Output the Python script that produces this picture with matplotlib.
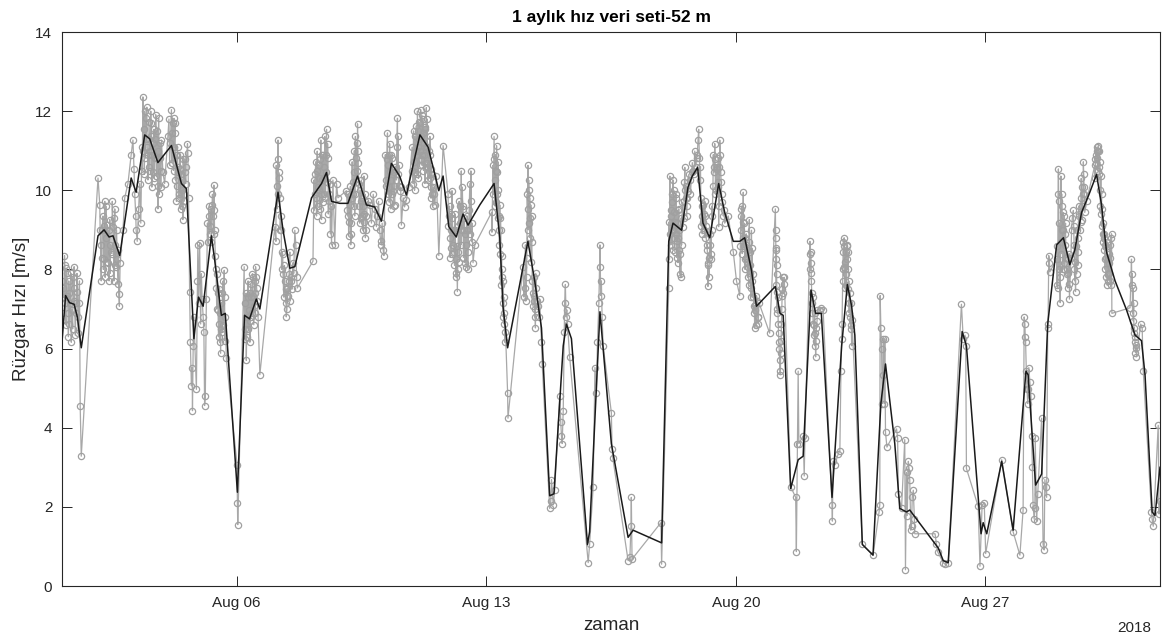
import numpy as np
import pandas as pd
import matplotlib
matplotlib.use('Agg')
import matplotlib.pyplot as plt
import matplotlib.dates as mdates

# Time stamps are given as fractional day-of-month (August 2018), speeds in m/s.

# raw measurements (gray, open circles)
t_raw = [
    1.10, 1.13, 1.17, 1.19, 1.22, 1.25, 1.27, 1.29, 1.31, 1.33, 1.36, 1.38, 1.41, 1.44, 1.45,
    1.47, 1.50, 1.53, 1.55, 1.57, 1.59, 1.61, 1.64, 2.11,
    2.16, 2.18, 2.20, 2.22, 2.25, 2.28, 2.30, 2.31, 2.34, 2.37, 2.39, 2.42, 2.44, 2.46, 2.48,
    2.51, 2.53, 2.56, 2.58, 2.60, 2.62, 2.65, 2.67, 2.69, 2.71, 2.73,
    2.81, 2.86, 2.95, 3.04, 3.09, 3.12, 3.14, 3.17, 3.18, 3.21, 3.25, 3.28, 3.31,
    3.34, 3.37, 3.40, 3.42, 3.44, 3.46, 3.49, 3.51, 3.54, 3.56, 3.59, 3.60, 3.62, 3.65, 3.68,
    3.70, 3.73, 3.75, 3.77, 3.79, 3.81, 3.84, 3.87, 3.89, 3.93, 3.98, 4.07, 4.12, 4.17, 4.19,
    4.21, 4.24, 4.26, 4.28, 4.31, 4.33, 4.35, 4.37, 4.40, 4.43, 4.45, 4.47, 4.49, 4.52, 4.54,
    4.57, 4.62, 4.63, 4.65, 4.68, 4.70, 4.73, 4.75, 4.76, 4.78, 4.80,
    4.87, 4.90, 4.91, 4.93, 4.96, 4.99, 5.01, 5.03, 5.06, 5.08, 5.10, 5.12, 5.15,
    5.18, 5.21, 5.24, 5.27, 5.31, 5.34, 5.36, 5.38, 5.40, 5.43, 5.46, 5.48, 5.50, 5.52, 5.55,
    5.57, 5.59, 5.62, 5.65, 5.66, 5.68, 5.71, 6.01, 6.02, 6.03,
    6.21, 6.23, 6.24, 6.27, 6.30, 6.32, 6.34, 6.37, 6.39, 6.41, 6.44, 6.46, 6.49, 6.51, 6.53,
    6.56, 6.60, 6.65,
    7.07, 7.10, 7.11, 7.14, 7.16, 7.18, 7.21, 7.24, 7.25, 7.27, 7.30, 7.35, 7.37, 7.39, 7.42,
    7.44, 7.47, 7.49, 7.52, 7.53, 7.58, 7.63, 7.66, 7.68, 7.70, 8.14,
    8.17, 8.19, 8.22, 8.24, 8.26, 8.28, 8.31, 8.33, 8.36, 8.38, 8.40, 8.42, 8.45, 8.47, 8.50,
    8.52, 8.55, 8.56, 8.58, 8.61, 8.63, 8.66, 8.70, 8.75, 8.80, 8.84,
    9.08, 9.11, 9.14, 9.17, 9.20, 9.22, 9.24, 9.26, 9.29, 9.31, 9.33, 9.36, 9.39, 9.40, 9.42,
    9.45, 9.48, 9.50, 9.52, 9.54, 9.57, 9.59, 9.61, 9.64, 9.67, 9.73, 9.78, 9.83, 9.87, 9.92,
    9.95, 9.98, 10.01, 10.04, 10.06, 10.08, 10.11, 10.13,
    10.17, 10.20, 10.23, 10.25, 10.27, 10.29, 10.32, 10.34, 10.36, 10.39, 10.41, 10.43, 10.48,
    10.51, 10.53, 10.55, 10.57, 10.60, 10.62, 10.67, 10.71, 10.76, 10.83,
    10.92, 10.95, 10.98, 11.00, 11.01, 11.04, 11.07, 11.09, 11.11, 11.13, 11.16, 11.18, 11.20,
    11.23, 11.26, 11.28, 11.29, 11.32, 11.35, 11.37, 11.40, 11.42, 11.44, 11.46, 11.49, 11.52,
    11.56, 11.60, 11.67, 11.79,
    11.93, 11.96, 11.98, 12.00, 12.02, 12.04, 12.07, 12.10, 12.12, 12.14, 12.16, 12.19, 12.21,
    12.24, 12.26, 12.29, 12.30, 12.33, 12.35, 12.38, 12.40, 12.43, 12.44, 12.47, 12.49, 12.54,
    12.57, 12.58, 12.60, 12.63, 12.68,
    13.15, 13.16, 13.19, 13.22, 13.24, 13.26, 13.29, 13.30, 13.31, 13.33, 13.35, 13.37, 13.38,
    13.41, 13.43, 13.44, 13.46, 13.47, 13.48, 13.50, 13.52, 13.54, 13.60, 13.61,
    14.03, 14.06, 14.08, 14.10, 14.13, 14.16, 14.17, 14.19, 14.21, 14.22, 14.25, 14.27, 14.29,
    14.31, 14.34, 14.36, 14.38, 14.41, 14.46, 14.50, 14.55, 14.57,
    14.78, 14.81, 14.83, 14.88, 14.92, 15.06, 15.09, 15.11, 15.13, 15.16, 15.19, 15.20, 15.22,
    15.24, 15.26, 15.28, 15.34, 15.86, 15.90, 16.00, 16.05, 16.09, 16.12, 16.16, 16.19, 16.20,
    16.21, 16.23, 16.25, 16.28, 16.51, 16.53, 16.55,
    16.98, 17.03, 17.06, 17.07, 17.09, 17.90, 17.92,
    18.12, 18.14, 18.15, 18.17, 18.18, 18.20, 18.21, 18.24, 18.27, 18.29, 18.31, 18.34, 18.36,
    18.38, 18.40, 18.43, 18.46, 18.48, 18.52, 18.55, 18.57, 18.59, 18.62, 18.64, 18.66, 18.71,
    18.76, 18.80, 18.85, 18.90, 18.94, 18.96, 18.98, 19.00, 19.02, 19.04, 19.06, 19.08, 19.11,
    19.13, 19.15, 19.18, 19.21, 19.22, 19.25, 19.27, 19.30, 19.32, 19.34, 19.37, 19.38, 19.41,
    19.43, 19.46, 19.49, 19.51, 19.52, 19.55, 19.58, 19.60, 19.65, 19.69, 19.79, 19.93, 20.02,
    20.11, 20.14, 20.16, 20.19, 20.21, 20.23, 20.25, 20.27, 20.30, 20.33, 20.35, 20.38, 20.39,
    20.42, 20.44, 20.46, 20.49, 20.52, 20.53, 20.55, 20.58, 20.61, 20.63, 20.65,
    20.95, 21.11, 21.12, 21.13, 21.14, 21.15, 21.16, 21.17, 21.19, 21.21, 21.23, 21.24, 21.25,
    21.26, 21.28, 21.30, 21.32, 21.34, 21.36, 21.54, 21.68, 21.70, 21.73, 21.75, 21.77, 21.89,
    21.92, 21.94,
    22.08, 22.10, 22.11, 22.12, 22.14, 22.17, 22.20, 22.22, 22.24, 22.26, 22.29, 22.36, 22.40,
    22.45, 22.70, 22.71, 22.73, 22.78, 22.87, 22.92, 22.95, 22.97, 22.98, 23.00, 23.01, 23.03,
    23.04, 23.06, 23.08, 23.10, 23.12, 23.13, 23.15, 23.17, 23.19, 23.21, 23.23, 23.25, 23.26,
    23.55, 23.85, 24.02, 24.04, 24.05, 24.07, 24.09, 24.11, 24.13, 24.14, 24.16, 24.18, 24.20,
    24.24, 24.51, 24.54, 24.56,
    24.65, 24.74, 24.76, 24.79, 24.81, 24.84, 24.86, 24.88, 24.91, 24.93, 24.95, 24.98, 25.01,
    25.02, 25.59, 25.63, 25.66, 25.82, 25.87, 25.96,
    26.33, 26.38, 26.43, 26.45, 26.47, 26.80, 26.85, 26.91, 26.97, 27.01, 27.46, 27.78, 27.97,
    28.06, 28.09, 28.11, 28.12, 28.13, 28.15, 28.17, 28.19, 28.20, 28.22, 28.25, 28.28, 28.30,
    28.32, 28.34, 28.37, 28.39,
    28.40, 28.44, 28.47, 28.58, 28.62, 28.65, 28.67, 28.69, 28.72, 28.75, 28.76, 28.78, 28.80,
    28.81, 29.00, 29.03, 29.05, 29.06, 29.08, 29.09, 29.10, 29.12, 29.14, 29.16, 29.18, 29.20,
    29.21, 29.23, 29.25, 29.28, 29.31, 29.33, 29.34, 29.36, 29.42, 29.47, 29.49, 29.51, 29.53,
    29.56, 29.59, 29.61, 29.63, 29.65, 29.68, 29.70, 29.72, 29.75, 29.77, 29.79, 29.84,
    30.07, 30.10, 30.12, 30.14, 30.17, 30.19, 30.21, 30.24, 30.26, 30.28, 30.31, 30.33, 30.35,
    30.37, 30.40, 30.43, 30.45, 30.47, 30.50, 30.52, 30.54, 30.55,
    31.06, 31.10, 31.12, 31.14, 31.16, 31.18, 31.20, 31.22, 31.24, 31.36, 31.40, 31.43,
    31.66, 31.68, 31.71, 31.85, 31.87, 31.90,
]
v_raw = [
    7.71, 7.53, 8.35, 7.16, 8.03, 7.34, 6.89, 7.71, 6.62, 7.16, 6.16, 6.98, 7.80, 8.07, 7.53,
    6.34, 7.16, 7.44, 6.80, 7.16, 7.71, 4.56, 3.28, 10.31,
    9.63, 8.62, 7.71, 8.99, 9.35, 8.26, 9.72, 7.80, 8.80, 9.12, 8.17, 7.71, 9.26, 8.62, 8.44,
    9.72, 9.08, 7.71, 9.53, 8.62, 8.07, 8.26, 7.62, 7.39, 7.07, 8.17,
    8.99, 9.81, 10.17, 10.90, 11.27, 10.54, 9.90, 9.35, 8.99, 8.71, 9.53, 10.17, 9.17,
    11.09, 12.36, 11.54, 12.00, 10.81, 11.82, 11.09, 10.26, 11.72, 10.99, 12.00, 11.36, 10.08,
    10.45, 11.54,
    10.81, 11.91, 10.36, 10.81, 9.53, 11.82, 10.81, 10.08, 11.27, 10.45, 10.17, 11.36, 10.63,
    12.04, 11.45,
    11.09, 11.82, 11.45, 10.26, 9.72, 10.90, 10.45, 9.90, 10.54, 9.53, 10.08, 10.26, 9.26, 9.72,
    10.45,
    10.17, 11.18, 10.95, 9.81, 7.44, 6.16, 5.06, 5.52, 4.43, 6.07, 6.80,
    4.97, 7.71, 8.62, 7.16, 8.67, 6.62, 7.89, 7.25, 6.80, 6.43, 4.56, 4.79, 7.25,
    9.17, 9.35, 8.90, 9.53, 9.63, 9.35, 10.13, 8.99, 8.35, 7.53, 7.89, 6.98, 6.62, 6.16, 5.88,
    7.16, 6.43, 7.71, 7.98, 7.30, 6.80, 5.75, 3.06, 2.10, 1.55,
    8.07, 7.16, 6.25, 5.70, 6.80, 7.71, 6.98, 6.16, 7.62, 6.80, 7.89, 7.34, 7.07, 7.71, 8.07,
    7.53, 6.80, 5.34,
    9.08, 8.71, 10.63, 9.53, 11.27, 10.45, 9.81, 9.35, 8.99, 8.44, 7.89, 7.71, 7.16, 6.80, 7.53,
    7.34, 7.89, 8.44, 7.80, 7.71, 8.17, 8.99, 8.62, 7.80, 7.53, 8.21,
    10.26, 9.90, 10.72, 9.35, 10.99, 10.08, 10.63, 9.53, 11.27, 9.26, 10.26, 10.90, 9.90, 11.36,
    10.45,
    11.54, 11.18, 10.81, 9.72, 10.17, 8.90, 8.62, 10.26, 8.62, 10.17, 9.81,
    9.99, 9.35, 8.85, 9.63, 8.62, 9.17, 10.72, 9.90, 10.45, 9.35, 11.36, 10.81, 11.68, 10.99,
    10.17,
    9.17, 9.72, 10.26, 9.35, 8.99, 10.36, 9.72, 8.80, 9.35, 9.72, 9.63, 9.17, 9.90, 9.53, 9.08,
    9.35, 9.72, 8.99, 8.71, 8.62, 9.17, 8.49, 8.35,
    10.90, 10.26, 11.45, 10.63, 10.08, 11.18, 9.53, 10.26, 10.81, 9.99, 10.45, 9.63, 10.26,
    11.82, 11.36, 10.63, 9.99, 10.08, 9.12, 9.81, 9.58, 9.76, 10.08,
    11.09, 10.17, 10.72, 11.36, 10.45, 11.63, 12.00, 11.09, 11.72, 10.63, 12.04, 11.36, 10.63,
    11.45, 10.90, 10.17, 11.54, 12.09, 11.09, 10.26, 10.63, 11.36, 10.08, 10.54, 9.90, 10.08,
    9.63, 10.36, 8.35, 11.13,
    9.90, 9.35, 8.80, 8.53, 8.99, 9.99, 8.62, 8.44, 8.99, 8.26, 7.80, 7.44, 8.44,
    9.72, 9.17, 8.62, 10.49, 10.08, 9.53, 8.99, 8.17, 8.62, 8.07, 9.35, 8.44, 10.17,
    10.49, 9.72, 9.17, 8.17, 8.62,
    9.44, 8.94, 10.63, 11.36, 10.26, 10.90, 11.13, 10.45, 9.90, 10.72, 9.35, 8.62, 9.63,
    8.99, 8.35, 7.80, 7.16, 7.71, 6.80, 6.62, 6.16, 6.43, 4.88, 4.24,
    8.07, 7.30, 7.53, 8.62, 7.80, 9.53, 10.63, 10.26, 9.17, 9.81, 9.63, 9.35, 7.71,
    7.07, 7.34, 6.80, 6.52, 7.53, 7.07, 7.25, 6.16, 5.61,
    1.96, 2.14, 2.69, 2.05, 2.42, 4.79, 4.15, 3.79, 3.60, 4.43, 6.43, 7.16, 7.62,
    6.80, 6.98, 6.62, 5.79, 0.59, 1.05, 2.51, 5.52, 4.88, 6.16, 7.16, 8.62, 8.07,
    7.34, 7.71, 6.80, 6.07, 4.38, 3.47, 3.24,
    0.64, 0.73, 1.51, 2.24, 0.68, 1.60, 0.55,
    7.53, 8.26, 10.36, 9.35, 8.62, 9.90, 8.99, 10.26, 9.44, 8.44, 9.81, 8.71, 9.17,
    8.17, 9.53, 7.89, 7.80, 8.62, 9.08, 9.72, 10.58, 9.81, 9.35, 9.81, 9.99, 10.26,
    10.45, 10.49, 10.99, 10.81, 11.27, 11.54, 10.81, 10.26, 9.81, 9.35, 8.90, 9.63, 8.99,
    9.72, 9.35, 8.62, 8.17, 7.57, 7.80, 8.62, 8.26, 8.99, 9.35, 10.90, 10.45, 11.18,
    9.90, 10.54, 10.08, 10.81, 9.08, 11.27, 10.45, 9.90, 9.35, 9.17, 9.35, 8.44, 7.71,
    7.34, 9.35, 9.53, 8.80, 9.95, 9.17, 8.26, 8.80, 8.62, 7.80, 8.07, 9.26, 8.44,
    7.53, 8.99, 8.53, 7.89, 7.07, 6.52, 6.98, 7.34, 6.80, 6.62, 7.16,
    6.39, 9.53, 8.80, 8.26, 8.53, 7.89, 7.44, 6.89, 6.62, 6.16, 5.70, 5.43, 5.34,
    5.88, 6.62, 7.34, 7.80, 7.62, 7.80, 2.51, 2.24, 0.87, 3.60, 5.43, 3.60, 3.79,
    2.78, 3.74,
    8.71, 8.44, 8.17, 7.71, 7.16, 6.62, 6.34, 6.07, 5.79, 6.52, 6.98, 6.98, 7.03,
    6.98, 2.05, 1.64, 3.15, 3.06, 3.33, 3.42, 5.43, 6.25, 6.62, 7.71, 8.44, 8.07,
    8.80, 7.53, 8.44, 7.89, 8.26, 8.62, 8.44, 7.71, 7.16, 6.80, 7.16, 6.07, 6.71,
    1.05, 0.78, 1.87, 2.05, 7.34, 6.52, 5.98, 4.61, 5.34, 6.25, 4.61, 6.25, 3.88,
    3.51, 3.97, 3.74, 2.33,
    1.96, 3.70, 0.41, 2.87, 1.78, 3.15, 2.97, 2.69, 1.41, 1.51, 2.24, 2.42, 1.69,
    1.32, 1.32, 1.05, 0.87, 0.59, 0.55, 0.59,
    7.12, 6.25, 6.34, 6.07, 2.97, 2.01, 0.50, 2.05, 2.10, 0.82, 3.19, 1.37, 0.78,
    1.92, 6.80, 6.62, 6.30, 6.16, 5.43, 4.97, 4.61, 4.97, 5.52, 5.16, 4.79, 3.79,
    3.01, 2.05, 1.69, 1.96,
    3.74, 1.64, 2.33, 4.24, 1.05, 0.91, 2.69, 2.51, 2.24, 6.52, 6.62, 8.35, 8.17,
    7.94, 8.26, 7.53, 10.54, 9.72, 9.17, 7.80, 7.16, 10.36, 9.90, 8.99, 9.44, 8.17,
    9.35, 8.62, 9.17, 7.89, 7.53, 8.26, 7.62, 7.25, 8.99, 9.49, 8.62, 7.71, 7.44,
    7.89, 8.44, 8.80, 9.35, 8.99, 9.81, 10.08, 9.26, 10.72, 10.08, 9.44, 9.72,
    10.63, 10.90, 11.09, 10.81, 11.13, 10.99, 10.72, 10.36, 9.90, 9.53, 9.17, 8.80, 8.62,
    8.26, 8.44, 7.71, 7.89, 8.17, 8.62, 8.80, 8.90, 6.89,
    7.03, 8.26, 7.89, 7.53, 7.16, 6.52, 6.16, 6.02, 5.79, 6.62, 6.52, 5.43,
    1.87, 1.69, 1.51, 4.06, 1.82, 2.14,
]

# further raw readings inside the windy stretches (same sensor, in between the above)
t_raw_more = [
    1.11, 1.15, 1.18, 1.21, 1.24, 1.28, 1.30, 1.35, 1.40, 1.43, 1.49, 1.52, 1.56,
    2.17, 2.21, 2.26, 2.29, 2.33, 2.36, 2.41, 2.45, 2.50, 2.55, 2.59, 2.63, 2.68,
    3.35, 3.38, 3.41, 3.45, 3.48, 3.50, 3.53, 3.55, 3.57, 3.61, 3.63, 3.66, 3.69, 3.72, 3.76,
    3.78, 3.80, 3.83, 3.85, 3.88, 4.10, 4.14, 4.18, 4.20, 4.23, 4.25, 4.27, 4.29, 4.32, 4.34,
    4.36, 4.39, 4.41, 4.44, 4.46, 4.48, 4.50, 4.53, 4.55, 4.58,
    5.19, 5.22, 5.25, 5.29, 5.32, 5.35, 5.37, 5.42, 5.44, 5.47, 5.49, 5.51, 5.53, 5.56, 5.60,
    5.63, 5.67,
    6.22, 6.26, 6.28, 6.31, 6.33, 6.36, 6.38, 6.40, 6.43, 6.45, 6.48, 6.50, 6.52, 6.55, 6.58,
    7.12, 7.15, 7.17, 7.20, 7.22, 7.26, 7.29, 7.32, 7.34, 7.38, 7.41, 7.46, 7.50, 7.55, 7.60,
    8.18, 8.20, 8.23, 8.25, 8.27, 8.30, 8.32, 8.35, 8.37, 8.39, 8.41, 8.44, 8.46, 8.49, 8.51,
    8.54, 8.57, 8.60, 8.64,
    9.10, 9.13, 9.16, 9.19, 9.21, 9.23, 9.25, 9.28, 9.30, 9.32, 9.35, 9.37, 9.38, 9.41, 9.44,
    9.47, 9.49, 9.51, 9.53, 9.56, 9.58, 9.60, 9.63,
    10.18, 10.21, 10.24, 10.26, 10.28, 10.30, 10.33, 10.35, 10.37, 10.40, 10.42, 10.45, 10.49,
    10.52, 10.54,
    10.93, 10.96, 10.99, 11.02, 11.05, 11.06, 11.08, 11.10, 11.12, 11.14, 11.15, 11.17, 11.19,
    11.21, 11.22, 11.24, 11.25, 11.27, 11.30, 11.31, 11.33, 11.34, 11.36, 11.39, 11.41, 11.43,
    11.45, 11.48, 11.50, 11.53,
    11.94, 11.97, 11.99, 12.01, 12.03, 12.05, 12.08, 12.11, 12.13, 12.15, 12.17, 12.20, 12.22,
    12.25, 12.27, 12.31, 12.34, 12.36, 12.39, 12.41, 12.45, 12.48, 12.52, 12.55, 12.59,
    13.20, 13.23, 13.25, 13.27, 13.28, 13.32, 13.34, 13.36, 13.39, 13.40, 13.42, 13.45, 13.49,
    13.51,
    14.11, 14.14, 14.15, 14.18, 14.20, 14.23, 14.24, 14.26, 14.28, 14.30, 14.33, 14.35, 14.37,
    14.39, 14.43, 14.48,
    18.13, 18.16, 18.19, 18.22, 18.23, 18.25, 18.26, 18.28, 18.30, 18.32, 18.33, 18.35, 18.37,
    18.39, 18.41, 18.42, 18.44, 18.47, 18.50, 18.54, 18.56, 18.58, 18.61, 18.63, 18.68, 18.73,
    18.78, 18.83, 18.88, 18.92, 19.01, 19.03, 19.05, 19.07, 19.10, 19.12, 19.14, 19.16, 19.20,
    19.23, 19.26, 19.28, 19.31, 19.33, 19.36, 19.40, 19.42, 19.45, 19.48, 19.50, 19.53, 19.54,
    19.57, 19.59, 19.62, 19.67,
    20.13, 20.15, 20.17, 20.18, 20.20, 20.22, 20.24, 20.26, 20.28, 20.29, 20.31, 20.34, 20.36,
    20.37, 20.40, 20.41, 20.43, 20.45, 20.47, 20.50, 20.54, 20.57, 20.60, 20.62,
    21.115, 21.125, 21.135, 21.145, 21.155, 21.18, 21.20, 21.22, 21.27, 21.29, 21.31, 21.33,
    22.085, 22.095, 22.115, 22.13, 22.15, 22.16, 22.19, 22.21, 22.23, 22.25, 22.28,
    23.005, 23.02, 23.035, 23.05, 23.07, 23.09, 23.11, 23.14, 23.16, 23.18, 23.20, 23.22, 23.24,
    29.01, 29.02, 29.04, 29.07, 29.11, 29.13, 29.15, 29.17, 29.19, 29.22, 29.24, 29.26, 29.30,
    29.32, 29.35, 29.40, 29.44, 29.48, 29.50, 29.52, 29.55, 29.57, 29.60, 29.62, 29.64, 29.67,
    29.69, 29.71, 29.74, 29.76, 29.78,
    30.08, 30.09, 30.11, 30.13, 30.15, 30.16, 30.18, 30.20, 30.22, 30.23, 30.25, 30.27, 30.29,
    30.30, 30.32, 30.34, 30.36, 30.38, 30.39, 30.41, 30.42, 30.44, 30.46, 30.48, 30.49, 30.51,
    30.53,
    31.11, 31.13, 31.15, 31.17, 31.19, 31.21, 31.23,
]
v_raw_more = [
    6.9, 7.3, 8.1, 6.6, 7.9, 6.3, 7.4, 7.9, 6.5, 7.2, 6.9, 7.9, 6.4,
    9.0, 8.3, 8.0, 9.1, 9.6, 8.2, 9.0, 7.9, 8.4, 9.3, 8.1, 9.0, 8.5,
    10.5, 11.0, 10.4, 11.3, 12.1, 10.9, 10.6, 11.3, 10.5, 11.7, 10.9, 11.2, 10.3, 11.3, 11.5,
    10.1, 11.0, 9.9, 11.2, 10.5, 11.8, 11.2, 10.7, 11.7, 10.5, 11.1, 11.7, 10.9, 10.1, 11.1,
    10.6, 9.8, 10.9, 10.4, 9.6, 10.0, 10.8, 9.9, 10.8, 10.6,
    8.7, 9.6, 9.1, 8.7, 9.9, 8.9, 9.5, 8.0, 7.0, 7.4, 6.3, 7.5, 6.9, 6.5, 7.4,
    6.6, 6.2,
    6.5, 7.4, 6.3, 7.3, 6.5, 7.4, 6.7, 7.3, 6.9, 7.8, 6.6, 7.4, 6.9, 7.8, 7.2,
    10.1, 10.8, 9.9, 10.3, 9.0, 8.0, 8.4, 7.3, 8.1, 7.5, 7.0, 7.7, 7.2, 7.5, 7.9,
    9.5, 10.4, 9.8, 10.5, 9.6, 10.3, 10.0, 10.8, 9.9, 10.9, 9.7, 10.6, 10.3, 9.8, 10.9,
    10.2, 9.4, 9.9, 9.6,
    9.5, 9.9, 9.2, 10.1, 8.9, 9.8, 10.2, 9.6, 11.0, 9.9, 10.2, 11.2, 10.5, 10.7, 9.6,
    10.0, 9.3, 9.8, 9.6, 9.2, 9.4, 9.9, 9.0,
    10.1, 10.8, 9.9, 10.9, 9.7, 10.5, 10.9, 9.9, 10.4, 9.6, 10.1, 10.6, 11.1,
    10.4, 10.1,
    10.5, 11.5, 10.0, 11.0, 10.9, 10.4, 11.5, 10.3, 11.3, 11.0, 11.7, 10.8, 11.9,
    10.9, 11.8, 10.5, 11.2, 11.6, 10.7, 11.1, 10.7, 11.8, 10.6, 11.0, 10.3, 10.9,
    9.8, 10.4, 9.6, 9.9,
    9.1, 9.6, 8.3, 9.4, 8.4, 9.3, 9.0, 8.1, 9.4, 7.9, 8.6, 8.0, 9.1,
    8.2, 9.6, 9.0, 9.6, 8.3, 9.3, 8.9, 9.0, 8.0, 9.5, 8.9, 8.7,
    9.9, 10.8, 9.6, 10.5, 9.7, 9.3, 10.0, 9.0, 8.4, 9.3, 7.6, 8.0, 7.3,
    6.9,
    7.2, 8.3, 9.9, 9.0, 10.0, 8.8, 9.3, 8.2, 8.7, 7.4, 7.8, 7.2, 7.0,
    7.9, 7.2, 6.8,
    9.2, 8.9, 9.5, 9.7, 8.5, 9.0, 10.0, 8.8, 9.2, 8.9, 9.9, 8.3, 9.5,
    8.8, 8.5, 9.0, 8.4, 9.3, 9.7, 9.3, 10.2, 10.0, 10.1, 9.6, 10.4, 9.9,
    10.7, 10.4, 10.6, 10.9, 10.6, 9.1, 9.6, 9.2, 9.4, 9.0, 8.8, 9.1, 8.5,
    8.1, 8.3, 8.9, 8.4, 9.6, 10.1, 10.6, 10.8, 10.0, 10.6, 10.2, 10.6, 9.6,
    10.9, 10.2, 9.7, 9.5,
    8.6, 9.0, 9.6, 8.4, 9.2, 8.6, 8.6, 8.0, 8.3, 8.9, 8.2, 8.5, 7.6,
    8.7, 7.9, 8.1, 7.3, 7.7, 7.3, 6.9, 7.1, 6.6, 7.2, 6.8,
    9.0, 8.5, 7.6, 8.1, 7.0, 7.3, 6.4, 6.0, 6.2, 7.0, 7.5, 7.4,
    8.4, 8.0, 7.9, 7.4, 6.9, 7.3, 6.6, 6.9, 6.4, 6.2, 6.7,
    8.0, 8.7, 8.6, 8.2, 8.0, 7.6, 8.6, 8.0, 7.5, 6.9, 7.4, 6.5, 6.6,
    7.6, 8.6, 9.9, 8.0, 8.7, 8.4, 9.6, 8.0, 9.0, 8.0, 8.9, 8.3, 8.0,
    7.9, 8.4, 8.3, 9.3, 9.1, 8.0, 8.2, 8.6, 9.0, 8.1, 9.6, 9.4, 9.2,
    10.3, 9.6, 9.9, 10.4, 9.9,
    10.3, 10.8, 10.7, 11.0, 10.5, 11.0, 10.6, 10.4, 10.0, 9.6, 9.4, 9.1, 8.9,
    8.7, 8.5, 8.9, 8.0, 8.3, 7.8, 8.7, 7.6, 8.3, 7.9, 8.4, 7.7, 8.3,
    7.6,
    7.6, 6.9, 6.7, 6.4, 6.3, 5.9, 6.1,
]

# smoothed series (black line)
t_smooth = [
    1.09, 1.20, 1.31, 1.44, 1.53, 1.64, 2.11, 2.28, 2.42, 2.53, 2.72, 3.04, 3.18, 3.42, 3.56,
    3.79, 4.17, 4.45, 4.59, 4.80, 4.93, 5.06, 5.29, 5.38, 5.57, 5.68, 6.02, 6.22, 6.36, 6.55,
    6.65, 7.16, 7.30, 7.49, 7.63, 8.10, 8.38, 8.52, 8.66, 8.89, 9.12, 9.39, 9.64, 9.87, 10.06,
    10.34, 10.57, 10.76, 11.14, 11.37, 11.67, 11.79, 11.95, 12.16, 12.35, 12.49, 12.82, 13.22,
    13.38, 13.47, 13.60, 14.17, 14.36, 14.55, 14.78, 14.90, 15.16, 15.25, 15.39, 15.84, 15.90,
    16.19, 16.51, 16.98, 17.12, 17.92, 18.12, 18.24, 18.48, 18.66, 18.78, 18.93, 19.08, 19.27,
    19.52, 19.69, 19.93, 20.11, 20.25, 20.44, 20.58, 21.11, 21.24, 21.33, 21.54, 21.75, 21.89,
    22.11, 22.24, 22.40, 22.70, 22.97, 23.13, 23.25, 23.34, 23.55, 23.85, 24.07, 24.20, 24.46,
    24.60, 24.79, 24.88, 25.68, 25.82, 25.96, 26.35, 26.47, 26.88, 26.94, 27.04, 27.46, 27.78,
    28.14, 28.20, 28.41, 28.58, 28.75, 29.00, 29.19, 29.37, 29.51, 29.70, 29.91, 30.12, 30.26,
    30.40, 30.64, 30.96, 31.20, 31.38, 31.48, 31.68, 31.76, 31.90,
]
v_smooth = [
    6.05, 7.34, 7.16, 7.12, 6.80, 6.02, 8.85, 9.00, 8.82, 8.85, 8.35, 10.31, 9.95, 11.40, 11.30,
    10.70, 11.13, 10.17, 10.04, 6.25, 7.30, 7.07, 8.85, 8.26, 6.84, 6.89, 2.37, 6.84, 6.75, 7.25,
    7.00, 9.95, 8.99, 8.03, 8.07, 9.81, 10.17, 10.45, 9.72, 9.67, 9.67, 10.36, 9.63, 9.58, 9.22,
    10.68, 10.36, 9.88, 11.40, 11.09, 9.99, 10.36, 9.08, 8.82, 9.40, 9.12, 9.63, 10.17,
    8.80, 7.07, 6.02, 8.71, 7.71, 6.52, 2.28, 2.33, 6.07, 6.62, 6.25, 1.05, 1.37,
    6.93, 3.60, 1.23, 1.41, 1.09, 8.71, 9.17, 8.99, 10.08, 10.36, 10.58, 9.17, 8.80,
    10.17, 9.44, 8.71, 8.71, 8.80, 7.98, 7.07, 7.57, 6.89, 6.84, 2.46, 3.19, 3.28,
    7.48, 6.89, 6.89, 2.24, 6.07, 7.62, 7.07, 6.34, 1.05, 0.78, 4.61, 5.61, 3.60,
    1.96, 1.87, 1.92, 0.96, 0.64, 0.59, 6.43, 6.07, 1.32, 1.60, 1.32, 3.15, 1.41,
    5.43, 5.34, 2.55, 2.83, 6.62, 8.62, 8.80, 8.12, 8.49, 9.44, 9.90, 10.40, 9.63,
    8.44, 7.71, 6.98, 6.34, 6.20, 5.34, 1.87, 1.78, 3.00,
]

y_ticks = [0, 2, 4, 6, 8, 10, 12, 14]

base = pd.Timestamp('2018-08-01')
t_all = np.concatenate([t_raw, t_raw_more])
v_all = np.concatenate([v_raw, v_raw_more])
order = np.argsort(t_all, kind='stable')
x_raw = base + pd.to_timedelta(t_all[order] - 1, unit='D')
y_raw = v_all[order]
x_smooth = base + pd.to_timedelta(np.asarray(t_smooth) - 1, unit='D')

plt.rcParams['font.family'] = ['Liberation Sans', 'DejaVu Sans']
ink = '#262626'

fig = plt.figure(figsize=(11.62, 6.42), dpi=100)
ax = fig.add_axes([62 / 1162, 56 / 642, 1098 / 1162, 554 / 642])

ax.plot(x_raw, y_raw, color='#a8a8a8', lw=0.9, marker='o', ms=4.5,
        mfc='none', mec='#a0a0a0', mew=0.9, zorder=2)
ax.plot(x_smooth, v_smooth, color='#1a1a1a', lw=1.1, zorder=3)

ax.set_xlim(x_raw[0], x_raw[-1])
ax.set_ylim(0, 14)
ax.set_yticks(y_ticks)
ax.xaxis.set_major_locator(mdates.DayLocator(bymonthday=[6, 13, 20, 27]))
ax.xaxis.set_major_formatter(mdates.DateFormatter('%b %d'))

ax.tick_params(direction='in', length=7.5, width=0.7, colors=ink,
               labelsize=11, top=True, right=True, pad=7)
for sp in ax.spines.values():
    sp.set_color(ink)
    sp.set_linewidth(0.8)

ax.set_title('1 aylık hız veri seti-52 m', fontsize=12.5, fontweight='bold',
             color='black', pad=7)
ax.set_xlabel('zaman', fontsize=13.5, color=ink, labelpad=5)
ax.set_ylabel('Rüzgar Hızı [m/s]', fontsize=13.5, color=ink, labelpad=4)
ax.text(0.992, -0.076, '2018', transform=ax.transAxes, ha='right', va='center',
        fontsize=11, color=ink)

fig.savefig('out.png', dpi=100)
